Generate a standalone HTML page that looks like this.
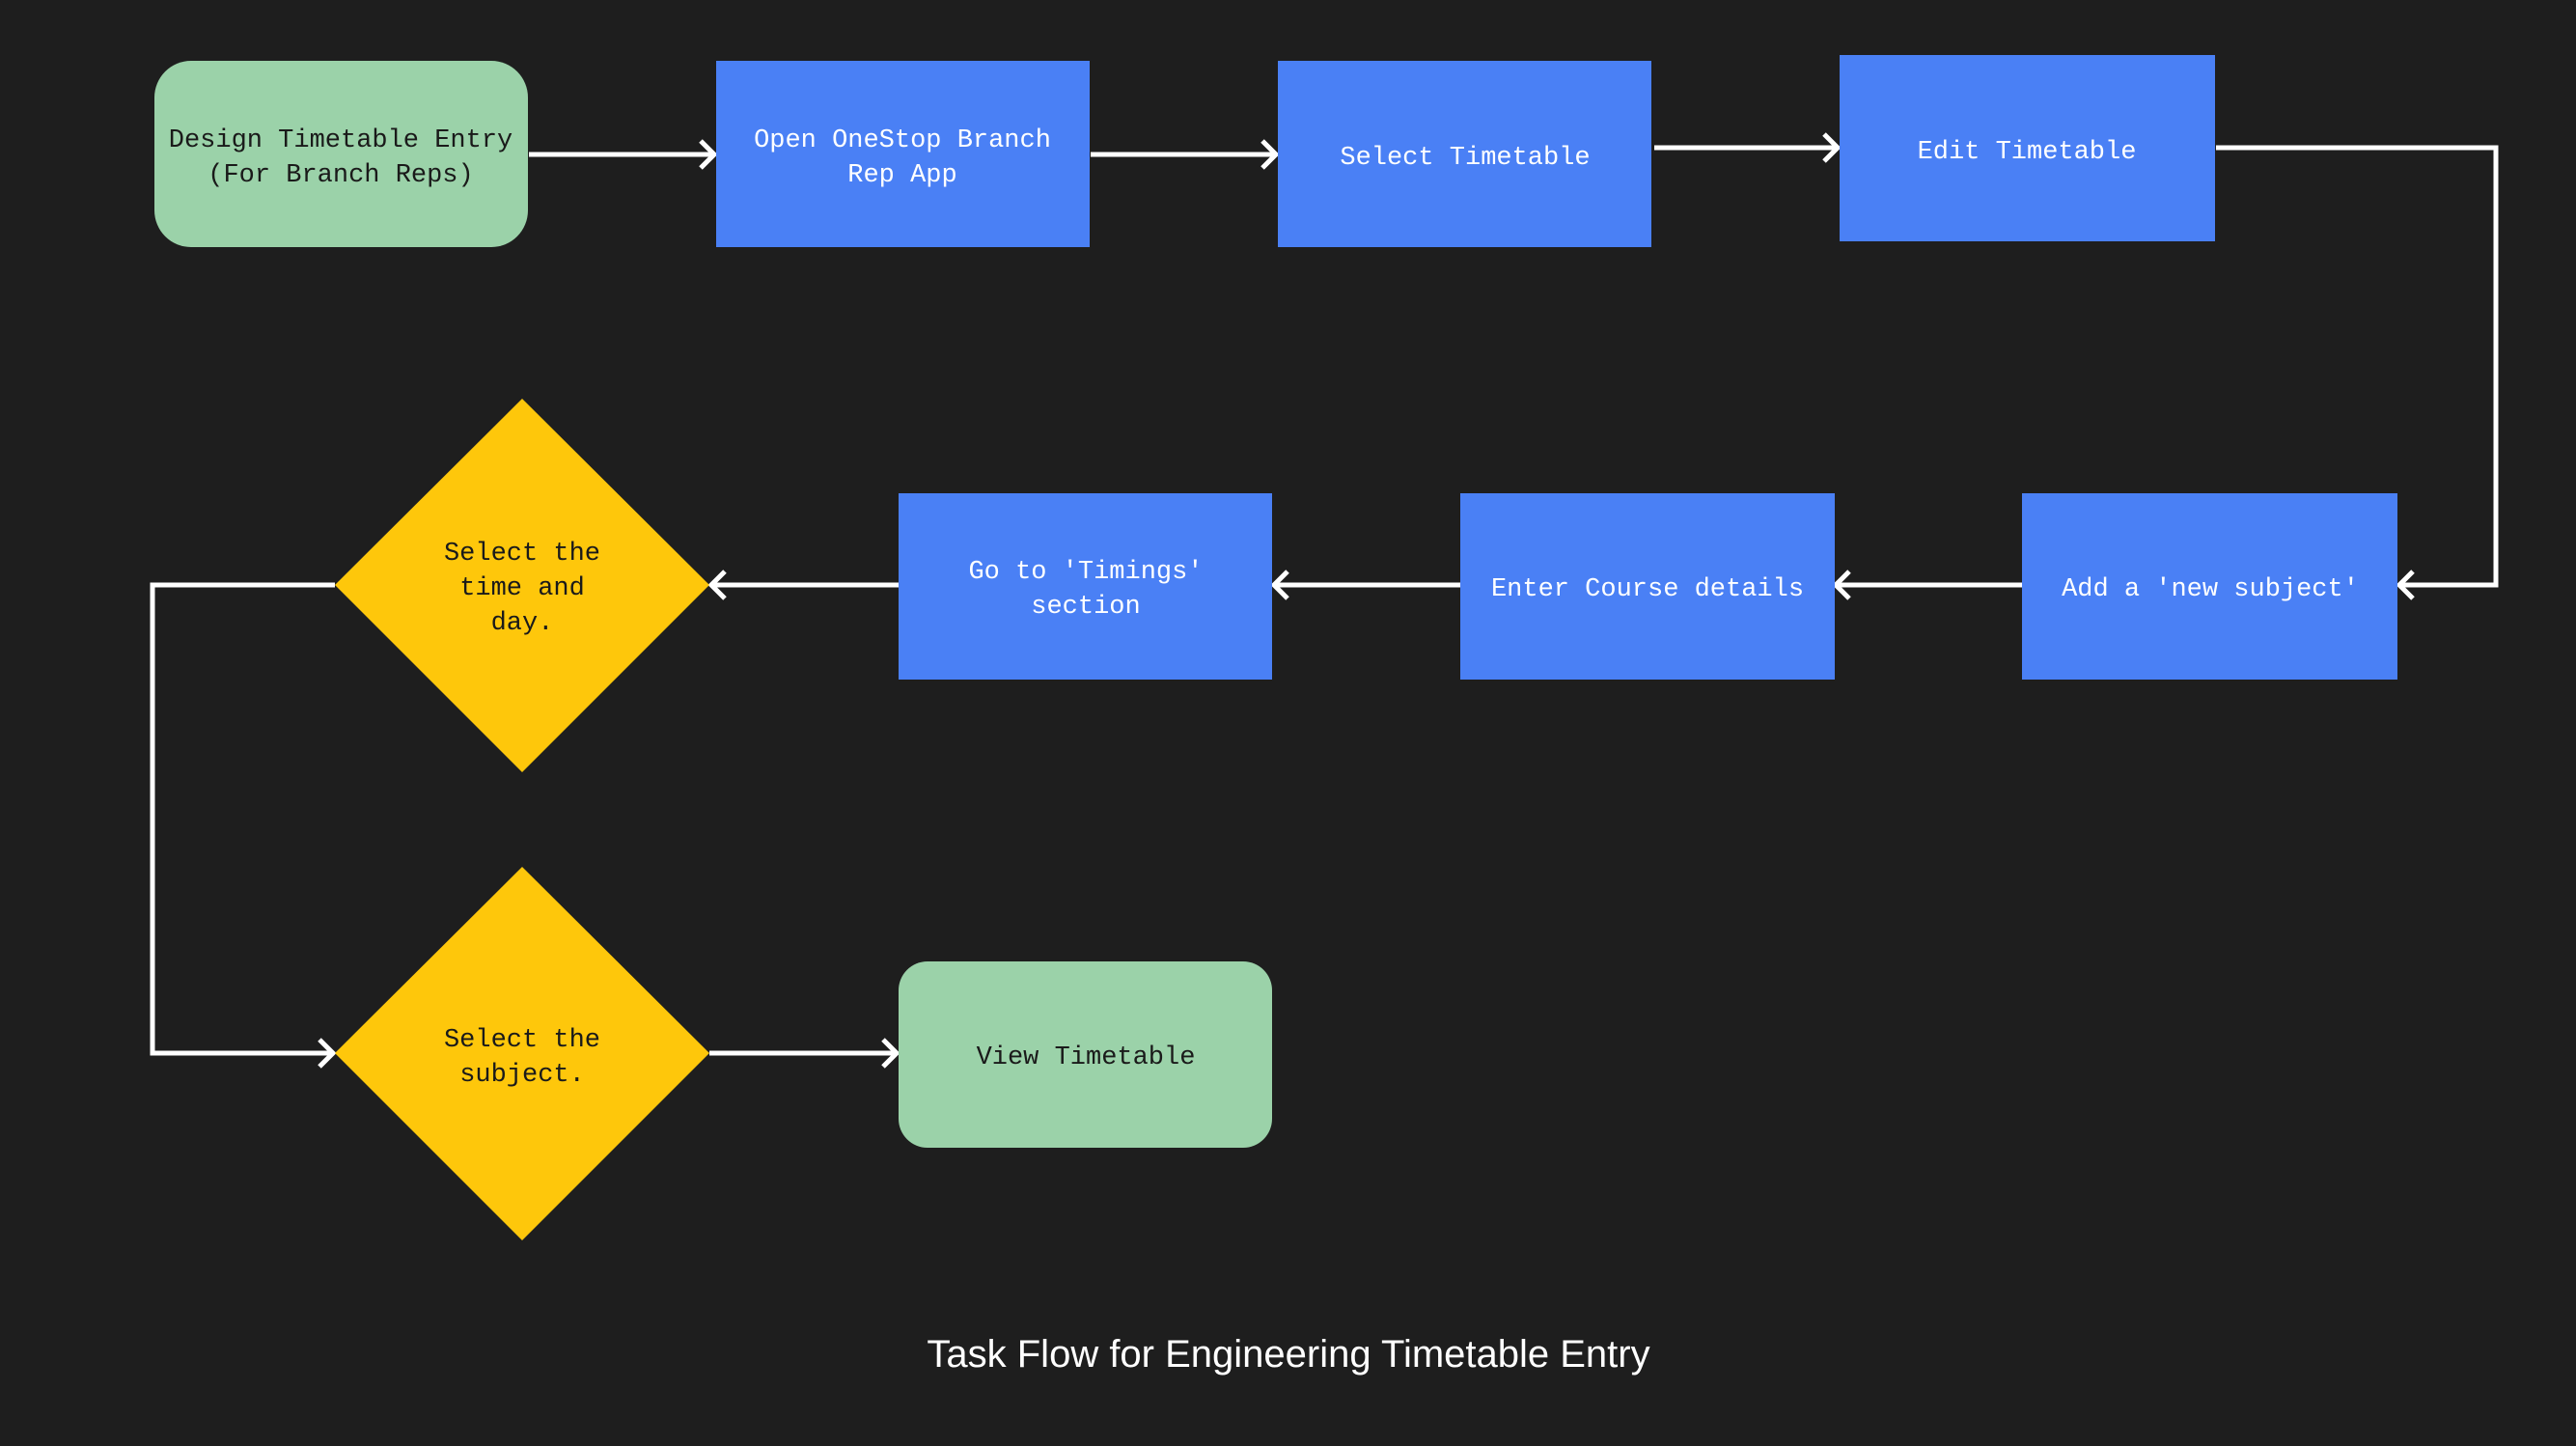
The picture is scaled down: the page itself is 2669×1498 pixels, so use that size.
<!DOCTYPE html>
<html><head><meta charset="utf-8"><style>
html,body{margin:0;padding:0;background:#1e1e1e;}
svg{display:block}
.t{font-family:"Liberation Mono",monospace;font-size:27px;text-anchor:middle;}
.w{fill:#fff}.d{fill:#1a1a1a}
</style></head><body>
<svg width="2669" height="1498" viewBox="0 0 2669 1498" xmlns="http://www.w3.org/2000/svg">
<rect width="2669" height="1498" fill="#1e1e1e"/>
<g fill="none" stroke="#fff" stroke-width="5" stroke-linejoin="miter">
<path d="M548 160H740"/><path d="M726 146L740 160L726 174"/>
<path d="M1130 160H1322"/><path d="M1308 146L1322 160L1308 174"/>
<path d="M1714 153H1904"/><path d="M1890 139L1904 153L1890 167"/>
<path d="M2296 153H2586V606H2486"/><path d="M2500 592L2486 606L2500 620"/>
<path d="M2095 606H1902"/><path d="M1916 592L1902 606L1916 620"/>
<path d="M1513 606H1320"/><path d="M1334 592L1320 606L1334 620"/>
<path d="M931 606H737"/><path d="M751 592L737 606L751 620"/>
<path d="M347 606H158V1091H345"/><path d="M331 1077L345 1091L331 1105"/>
<path d="M735 1091H929"/><path d="M915 1077L929 1091L915 1105"/>
</g>
<rect x="160" y="63" width="387" height="193" rx="38" fill="#9bd2a9"/>
<text class="t d" x="353" y="152">Design Timetable Entry</text>
<text class="t d" x="353" y="188">(For Branch Reps)</text>
<rect x="742" y="63" width="387" height="193" fill="#4a80f5"/>
<text class="t w" x="935" y="152">Open OneStop Branch</text>
<text class="t w" x="935" y="188">Rep App</text>
<rect x="1324" y="63" width="387" height="193" fill="#4a80f5"/>
<text class="t w" x="1518" y="170">Select Timetable</text>
<rect x="1906" y="57" width="389" height="193" fill="#4a80f5"/>
<text class="t w" x="2100" y="164">Edit Timetable</text>
<rect x="2095" y="511" width="389" height="193" fill="#4a80f5"/>
<text class="t w" x="2290" y="617">Add a 'new subject'</text>
<rect x="1513" y="511" width="388" height="193" fill="#4a80f5"/>
<text class="t w" x="1707" y="617">Enter Course details</text>
<rect x="931" y="511" width="387" height="193" fill="#4a80f5"/>
<text class="t w" x="1125" y="599">Go to 'Timings'</text>
<text class="t w" x="1125" y="635">section</text>
<polygon points="541,413 735,606 541,800 347,606" fill="#fec70b"/>
<text class="t d" x="541" y="580">Select the</text>
<text class="t d" x="541" y="616">time and</text>
<text class="t d" x="541" y="652">day.</text>
<polygon points="541,898 735,1091 541,1285 347,1091" fill="#fec70b"/>
<text class="t d" x="541" y="1084">Select the</text>
<text class="t d" x="541" y="1120">subject.</text>
<rect x="931" y="996" width="387" height="193" rx="30" fill="#9bd2a9"/>
<text class="t d" x="1125" y="1102">View Timetable</text>
<text x="1335" y="1416" fill="#fff" font-family="Liberation Sans, sans-serif" font-size="40" text-anchor="middle">Task Flow for Engineering Timetable Entry</text>
</svg>
</body></html>
